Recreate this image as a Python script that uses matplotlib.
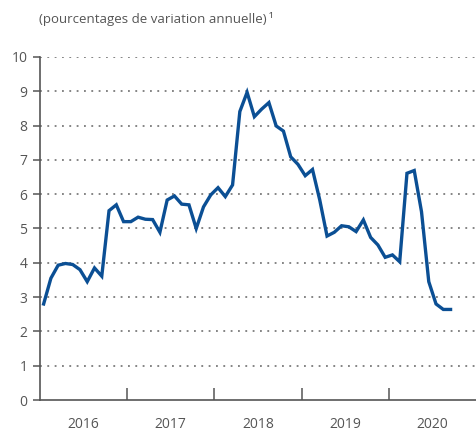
import matplotlib
matplotlib.use("Agg")
import matplotlib.pyplot as plt
import numpy as np

plt.rcParams['font.family'] = ['Open Sans', 'DejaVu Sans']

title = "(pourcentages de variation annuelle)\u2009\u00b9"
years = [2016, 2017, 2018, 2019, 2020]
values = [
    2.80, 3.55, 3.93, 3.98, 3.95, 3.80, 3.45, 3.85, 3.61, 5.52, 5.69, 5.20,
    5.20, 5.33, 5.27, 5.26, 4.89, 5.83, 5.95, 5.71, 5.69, 5.00, 5.63, 5.98,
    6.19, 5.93, 6.27, 8.41, 8.97, 8.26, 8.48, 8.67, 7.99, 7.84, 7.09, 6.87,
    6.54, 6.72, 5.83, 4.78, 4.89, 5.08, 5.05, 4.91, 5.25, 4.74, 4.52, 4.16,
    4.23, 4.03, 6.61, 6.69, 5.49, 3.45, 2.80, 2.64, 2.64,
]
yticks = list(range(0, 11))

months = 2016 + (np.arange(len(values)) + 0.5) / 12.0

fig = plt.figure(figsize=(4.76, 4.32), dpi=100)
ax = fig.add_axes([40/476, 1 - 400/432, 436/476, 343/432])

line_color = "#0b4f94"
axis_color = "#555555"
text_color = "#555555"

ax.plot(months, values, color=line_color, lw=2.4, solid_joinstyle='miter', clip_on=False, zorder=3)

ax.set_xlim(2016, 2021)
ax.set_ylim(0, 10)

for v in yticks[1:]:
    ax.axhline(v, color="#707070", lw=1.2, ls=(0, (1.1, 3.3)), zorder=1)

ax.set_yticks(yticks)
ax.set_yticklabels([str(v) for v in yticks])
ax.tick_params(axis='y', direction='out', length=5, width=1.1, color=axis_color,
               labelsize=10, labelcolor=text_color, pad=4)

ax.set_xticks([2017, 2018, 2019, 2020])
ax.set_xticklabels([])
ax.tick_params(axis='x', which='major', direction='in', length=9, width=1.1, color=axis_color)
ax.set_xticks([y + 0.5 for y in years], minor=True)
ax.set_xticklabels([str(y) for y in years], minor=True)
ax.tick_params(axis='x', which='minor', length=0, labelsize=10, labelcolor=text_color, pad=12.5)

for s in ['top', 'right']:
    ax.spines[s].set_visible(False)
for s in ['left', 'bottom']:
    ax.spines[s].set_color(axis_color)
    ax.spines[s].set_linewidth(1.2)

fig.text(39/476, 1 - 19/432, title, ha='left', va='center', fontsize=9.5, color=text_color)

fig.savefig("out.png", dpi=100)
